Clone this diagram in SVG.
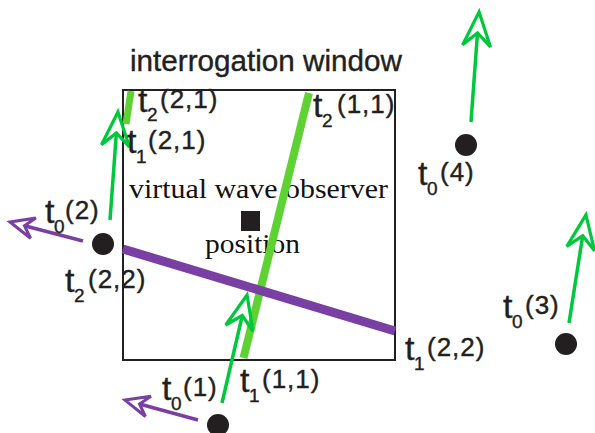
<svg xmlns="http://www.w3.org/2000/svg" width="595" height="433" viewBox="0 0 595 433">
<style>
.sans{font-family:"Liberation Sans",Arial,sans-serif;fill:#231f20;stroke:#231f20;stroke-width:0.4}
.serif{font-family:"Liberation Serif","Times New Roman",serif;fill:#111}
.t{font-size:34px}
.s{font-size:19px}
.p{font-size:26px;letter-spacing:1px}
.dot{fill:#231f20}
.garrow{stroke:#00c83c;stroke-width:3.5;fill:none}
.parrow{stroke:#7a3fa3;stroke-width:3.5;fill:none}
</style>
<defs>
<marker id="gh" markerUnits="userSpaceOnUse" viewBox="-20 -20 50 40" refX="0" refY="0" markerWidth="50" markerHeight="40" orient="auto" overflow="visible">
<path d="M21 0 L-13 -14 L0 0 L-13 14 Z" fill="none" stroke="#00c83c" stroke-width="3.2" stroke-linejoin="miter"/>
</marker>
<marker id="ph" markerUnits="userSpaceOnUse" viewBox="-20 -20 50 40" refX="0" refY="0" markerWidth="50" markerHeight="40" orient="auto" overflow="visible">
<path d="M15 0 L-9 -10.5 L0 0 L-9 10.5 Z" fill="none" stroke="#7a3fa3" stroke-width="3" stroke-linejoin="miter"/>
</marker>
</defs>
<rect width="595" height="433" fill="#fff"/>

<g id="window">
<rect x="123" y="90" width="272" height="270" fill="none" stroke="#231f20" stroke-width="2"/>
<text class="sans" x="130" y="71" font-size="30" textLength="272" lengthAdjust="spacingAndGlyphs">interrogation window</text>
</g>

<g id="observer">
<rect x="241" y="211" width="19" height="20" fill="#231f20"/>
<text class="serif" x="129" y="198" font-size="28" textLength="259" lengthAdjust="spacingAndGlyphs">virtual wave observer</text>
<text class="serif" x="205" y="253" font-size="28" textLength="95" lengthAdjust="spacingAndGlyphs">position</text>
</g>

<g id="connectors">
<line x1="243.5" y1="358" x2="309" y2="93" stroke="#5dd232" stroke-width="8"/>
<line x1="131" y1="91" x2="126" y2="124" stroke="#5dd232" stroke-width="7"/>
<line x1="123" y1="249" x2="395" y2="331" stroke="#7a3fa3" stroke-width="9"/>
<line class="garrow" x1="471" y1="122" x2="477.5" y2="32.9" marker-end="url(#gh)"/>
<line class="garrow" x1="569" y1="323" x2="582.7" y2="235.7" marker-end="url(#gh)"/>
<line class="garrow" x1="110" y1="220" x2="116.4" y2="132.9" marker-end="url(#gh)"/>
<line class="garrow" x1="222" y1="403" x2="242.3" y2="315.5" marker-end="url(#gh)"/>
<line class="parrow" x1="83" y1="241" x2="24.5" y2="225.8" marker-end="url(#ph)"/>
<line class="parrow" x1="198" y1="420" x2="139.5" y2="404" marker-end="url(#ph)"/>
</g>

<g id="p1"><circle class="dot" cx="218" cy="425" r="11"/>
<text class="sans"><tspan class="t" x="162" y="400">t</tspan><tspan class="s" x="171" y="410">0</tspan><tspan class="p" x="183" y="396">(1)</tspan></text></g>
<g id="p2"><circle class="dot" cx="103" cy="244" r="11"/>
<text class="sans"><tspan class="t" x="45" y="223">t</tspan><tspan class="s" x="54" y="233">0</tspan><tspan class="p" x="65" y="219">(2)</tspan></text></g>
<g id="p3"><circle class="dot" cx="566" cy="344" r="11"/>
<text class="sans"><tspan class="t" x="503" y="318">t</tspan><tspan class="s" x="512" y="328">0</tspan><tspan class="p" x="525" y="314">(3)</tspan></text></g>
<g id="p4"><circle class="dot" cx="466" cy="145" r="11"/>
<text class="sans"><tspan class="t" x="418" y="185">t</tspan><tspan class="s" x="427" y="195">0</tspan><tspan class="p" x="440" y="181">(4)</tspan></text></g>

<g id="l-t2-21"><text class="sans"><tspan class="t" x="138" y="112">t</tspan><tspan class="s" x="147" y="121">2</tspan><tspan class="p" x="160" y="108">(2,1)</tspan></text></g>
<g id="l-t1-21"><text class="sans"><tspan class="t" x="127" y="153">t</tspan><tspan class="s" x="136" y="163">1</tspan><tspan class="p" x="148" y="149">(2,1)</tspan></text></g>
<g id="l-t2-11"><text class="sans"><tspan class="t" x="313" y="117">t</tspan><tspan class="s" x="322" y="127">2</tspan><tspan class="p" x="337" y="113">(1,1)</tspan></text></g>
<g id="l-t2-22"><text class="sans"><tspan class="t" x="65" y="292">t</tspan><tspan class="s" x="74" y="302">2</tspan><tspan class="p" x="88" y="288">(2,2)</tspan></text></g>
<g id="l-t1-22"><text class="sans"><tspan class="t" x="405" y="360">t</tspan><tspan class="s" x="414" y="370">1</tspan><tspan class="p" x="427" y="356">(2,2)</tspan></text></g>
<g id="l-t1-11"><text class="sans"><tspan class="t" x="240" y="392">t</tspan><tspan class="s" x="249" y="402">1</tspan><tspan class="p" x="262" y="388">(1,1)</tspan></text></g>
</svg>
